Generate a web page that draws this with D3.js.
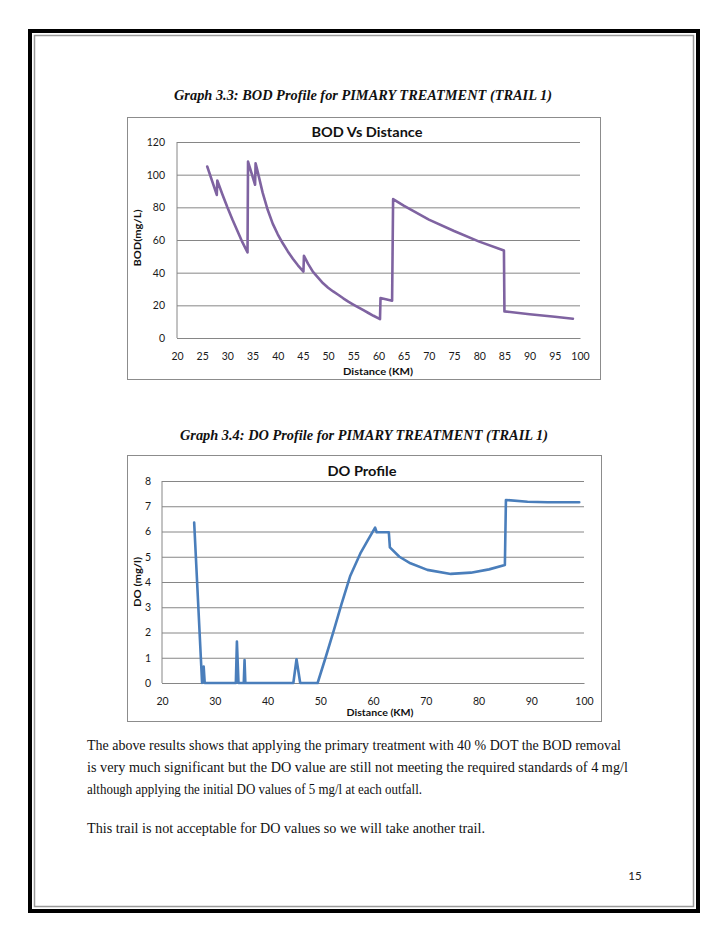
<!DOCTYPE html>
<html>
<head>
<meta charset="utf-8">
<script src="https://cdn.jsdelivr.net/npm/d3@7"></script>
<style>
  html, body { margin: 0; padding: 0; background: #fff; }
  svg { display: block; }
</style>
</head>
<body>
<svg id="page" width="728" height="943"></svg>
<script>
// ---------- DATA ----------
const bodDistance = [26.0, 27.9, 28.0, 29, 30, 31, 32, 33, 34.0, 34.1, 35.5, 35.6, 36, 37, 38, 39, 40, 41, 42, 43, 44, 45.1, 45.2, 46, 47, 48, 49, 50, 51, 52, 53, 54, 55, 56, 57, 58, 59, 60.3, 60.4, 62.7, 62.9, 65, 70, 75, 80, 84.9, 85.0, 90, 95, 98.6];
const bodValues   = [105, 87.6, 96.4, 88, 80, 72.5, 65.5, 58.5, 52.4, 108, 93.8, 107, 102, 89, 78.5, 70, 63.5, 58, 53, 48.5, 44.5, 40.7, 50.3, 45.5, 40.5, 37, 33.5, 30.8, 28.5, 26.5, 24.3, 22.3, 20.5, 18.7, 17, 15.3, 13.6, 11.6, 24.5, 22.8, 85, 81, 72.5, 65.5, 59, 53.6, 16.3, 14.5, 13, 11.8];

const doDistance = [26.1, 27.6, 27.9, 28.1, 34.0, 34.2, 34.5, 35.5, 35.65, 35.8, 44.9, 45.5, 46.2, 49.5, 51, 52.6, 54, 55.7, 57.6, 59, 60.4, 60.7, 63.0, 63.2, 65, 67.1, 70.3, 74.75, 78.55, 82, 85.0, 85.2, 89.3, 93.1, 99.1];
const doValues   = [6.35, 0, 0.65, 0, 0, 1.64, 0, 0, 0.91, 0, 0, 0.94, 0, 0, 1.0, 2.1, 3.1, 4.25, 5.13, 5.65, 6.15, 5.97, 5.97, 5.37, 5.0, 4.74, 4.48, 4.32, 4.37, 4.5, 4.67, 7.25, 7.18, 7.16, 7.16];

const bodXTicks = [20, 25, 30, 35, 40, 45, 50, 55, 60, 65, 70, 75, 80, 85, 90, 95, 100];
const bodYTicks = [0, 20, 40, 60, 80, 100, 120];
const doXTicks  = [20, 30, 40, 50, 60, 70, 80, 90, 100];
const doYTicks  = [0, 1, 2, 3, 4, 5, 6, 7, 8];

const caption1 = "Graph 3.3: BOD Profile for PIMARY TREATMENT (TRAIL 1)";
const caption2 = "Graph 3.4: DO Profile for PIMARY TREATMENT (TRAIL 1)";
const bodTitle = "BOD Vs Distance";
const doTitle  = "DO Profile";
const paragraph = [
  "The above results shows that applying the primary treatment with 40 % DOT the BOD removal",
  "is very much significant but the DO value are still not meeting the required standards of 4 mg/l",
  "although applying the initial DO values of 5 mg/l at each outfall.",
  "This trail is not acceptable for DO values so we will take another trail."
];
const pageNumber = "15";

// ---------- DRAW ----------
const svg = d3.select("#page");
const chartFont = "Lato, 'Open Sans', sans-serif";
const serif = "'Liberation Serif', 'DejaVu Serif', serif";

// page border
svg.append("rect").attr("x", 30).attr("y", 31).attr("width", 668).attr("height", 880)
  .attr("fill", "none").attr("stroke", "#000").attr("stroke-width", 4);
svg.append("rect").attr("x", 34.5).attr("y", 35.5).attr("width", 659).attr("height", 871)
  .attr("fill", "none").attr("stroke", "#9a9a9a").attr("stroke-width", 1.5);

// captions
function caption(txt, cx, y, len) {
  svg.append("text").attr("x", cx).attr("y", y).attr("text-anchor", "middle")
    .attr("font-family", serif).attr("font-weight", "bold").attr("font-style", "italic")
    .attr("font-size", 14.5).attr("textLength", len).attr("lengthAdjust", "spacingAndGlyphs")
    .attr("fill", "#111").text(txt);
}
caption(caption1, 363, 100, 378);
caption(caption2, 364, 440, 368);

function chart(cfg) {
  const g = svg.append("g");
  g.append("rect").attr("x", cfg.frame[0] + 0.5).attr("y", cfg.frame[1] + 0.5)
    .attr("width", cfg.frame[2]).attr("height", cfg.frame[3])
    .attr("fill", "#fff").attr("stroke", "#8c8c8c").attr("stroke-width", 1);

  const x = d3.scaleLinear().domain([20, 100]).range(cfg.xr);
  const y = d3.scaleLinear().domain(cfg.ydom).range(cfg.yr);
  const w = cfg.xr[1] - cfg.xr[0];

  const ya = g.append("g").attr("transform", `translate(${cfg.xr[0]},0)`)
    .call(d3.axisLeft(y).tickValues(cfg.yTicks).tickSize(-w).tickPadding(cfg.yPad));
  ya.select(".domain").remove();
  ya.selectAll(".tick line").attr("stroke", "#868686").attr("stroke-width", 1);
  ya.selectAll(".tick text").attr("font-family", chartFont).attr("font-size", 10.5).attr("fill", "#1a1a1a");

  const xa = g.append("g").attr("transform", `translate(0,${cfg.yr[0]})`)
    .call(d3.axisBottom(x).tickValues(cfg.xTicks).tickSize(0).tickPadding(15));
  xa.select(".domain").attr("stroke", "#868686");
  xa.selectAll(".tick text").attr("font-family", chartFont).attr("font-size", 10.5).attr("fill", "#1a1a1a");

  g.append("line").attr("x1", cfg.xr[0]).attr("x2", cfg.xr[0]).attr("y1", cfg.yr[0]).attr("y2", cfg.yr[1])
    .attr("stroke", "#868686").attr("stroke-width", 1);

  const pts = cfg.xs.map((d, i) => [d, cfg.ys[i]]);
  g.append("path").datum(pts)
    .attr("d", d3.line().x(d => x(d[0])).y(d => y(d[1])))
    .attr("fill", "none").attr("stroke", cfg.color).attr("stroke-width", 2.6)
    .attr("stroke-linejoin", "round").attr("stroke-linecap", "round");

  g.append("text").attr("x", cfg.title[1]).attr("y", cfg.title[2]).attr("text-anchor", "middle")
    .attr("font-family", chartFont).attr("font-weight", "bold").attr("font-size", 14)
    .attr("textLength", cfg.title[3]).attr("lengthAdjust", "spacingAndGlyphs")
    .attr("fill", "#111").text(cfg.title[0]);
  g.append("text").attr("x", cfg.xTitle[1]).attr("y", cfg.xTitle[2]).attr("text-anchor", "middle")
    .attr("font-family", chartFont).attr("font-weight", "bold").attr("font-size", 10)
    .attr("textLength", cfg.xTitle[3]).attr("lengthAdjust", "spacingAndGlyphs")
    .attr("fill", "#111").text(cfg.xTitle[0]);
  g.append("text").attr("transform", `translate(${cfg.yTitle[1]},${cfg.yTitle[2]}) rotate(-90)`)
    .attr("text-anchor", "middle")
    .attr("font-family", chartFont).attr("font-weight", "bold").attr("font-size", 10)
    .attr("textLength", cfg.yTitle[3]).attr("lengthAdjust", "spacingAndGlyphs")
    .attr("fill", "#111").text(cfg.yTitle[0]);
}

chart({
  frame: [127, 117, 473, 262],
  xr: [177, 580], yr: [338, 142], ydom: [0, 120],
  xTicks: bodXTicks, yTicks: bodYTicks, yPad: 12,
  xs: bodDistance, ys: bodValues, color: "#7f63a1",
  title: [bodTitle, 367, 137, 111],
  xTitle: ["Distance (KM)", 378, 375, 70],
  yTitle: ["BOD(mg/L)", 141, 238, 57]
});

chart({
  frame: [127, 455, 474, 266],
  xr: [162, 584], yr: [683, 481], ydom: [0, 8],
  xTicks: doXTicks, yTicks: doYTicks, yPad: 11,
  xs: doDistance, ys: doValues, color: "#4a7ebb",
  title: [doTitle, 362, 476, 69],
  xTitle: ["Distance (KM)", 380, 716, 67],
  yTitle: ["DO (mg/l)", 141, 582, 50]
});

// paragraph
const paraY = [750, 772, 794, 833];
const paraLen = [534, 541, 335, 398];
paragraph.forEach((t, i) => {
  svg.append("text").attr("x", 87).attr("y", paraY[i])
    .attr("font-family", serif).attr("font-size", 14.5)
    .attr("textLength", paraLen[i]).attr("lengthAdjust", "spacingAndGlyphs")
    .attr("fill", "#111").text(t);
});

svg.append("text").attr("x", 635).attr("y", 880).attr("text-anchor", "middle")
  .attr("font-family", chartFont).attr("font-size", 11.5).attr("fill", "#222").text(pageNumber);
</script>
</body>
</html>
